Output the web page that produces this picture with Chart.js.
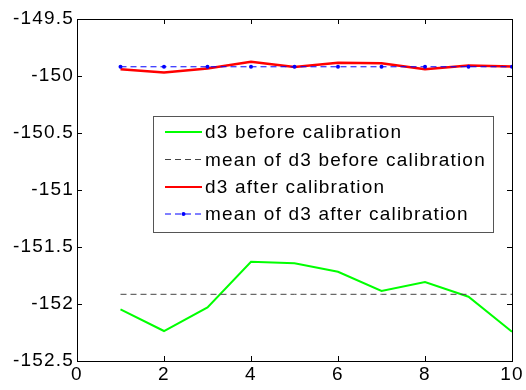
<!DOCTYPE html>
<html>
<head>
<meta charset="utf-8">
<script src="https://cdn.jsdelivr.net/npm/chart.js@4"></script>
<style>
  html, body { margin: 0; padding: 0; background: #fff; }
  #wrap { width: 526px; height: 390px; }
</style>
</head>
<body>
<div id="wrap"><canvas id="c" width="526" height="390"></canvas></div>
<script>
// sample index
const xs = [1, 2, 3, 4, 5, 6, 7, 8, 9, 10];

// d3 values
const d3Before = [-152.047, -152.237, -152.03, -151.63, -151.643, -151.717, -151.886, -151.807, -151.936, -152.243];
const d3BeforeMean = [-151.915, -151.915, -151.915, -151.915, -151.915, -151.915, -151.915, -151.915, -151.915, -151.915];
const d3After = [-149.94, -149.97, -149.934, -149.875, -149.92, -149.884, -149.888, -149.94, -149.908, -149.917];
const d3AfterMean = [-149.919, -149.919, -149.919, -149.919, -149.919, -149.919, -149.919, -149.919, -149.919, -149.919];

const labels = ["d3 before calibration", "mean of d3 before calibration", "d3 after calibration", "mean of d3 after calibration"];

const xTicks = [0, 2, 4, 6, 8, 10];
const yTicks = [-152.5, -152, -151.5, -151, -150.5, -150, -149.5];

const FONT = "Liberation Sans, Arial, sans-serif";

function pts(ys) {
    return xs.map((x, i) => ({ x: x, y: ys[i] }));
}

// matlab text is a bit wider than arial
const spacing = {
    id: "spacing",
    beforeUpdate(chart) { chart.ctx.letterSpacing = "1.2px"; },
    beforeDraw(chart) { chart.ctx.letterSpacing = "1.2px"; }
};

// box, inward ticks on all four sides, legend inside the axes
const matlabAxes = {
    id: "matlabAxes",
    afterDraw(chart) {
        const ctx = chart.ctx;
        const a = chart.chartArea;
        const sx = chart.scales.x, sy = chart.scales.y;
        ctx.save();
        ctx.strokeStyle = "#000";
        ctx.lineWidth = 1;
        ctx.strokeRect(Math.round(a.left) + 0.5, Math.round(a.top) + 0.5,
            Math.round(a.right - a.left), Math.round(a.bottom - a.top));
        ctx.beginPath();
        xTicks.forEach(v => {
            const px = Math.round(sx.getPixelForValue(v)) + 0.5;
            ctx.moveTo(px, a.bottom); ctx.lineTo(px, a.bottom - 5);
            ctx.moveTo(px, a.top); ctx.lineTo(px, a.top + 5);
        });
        yTicks.forEach(v => {
            const py = Math.round(sy.getPixelForValue(v)) + 0.5;
            ctx.moveTo(a.left, py); ctx.lineTo(a.left + 5, py);
            ctx.moveTo(a.right, py); ctx.lineTo(a.right - 5, py);
        });
        ctx.stroke();

        // legend
        const bx = 153.5, by = 116.5, bw = 340, bh = 116;
        ctx.fillStyle = "#fff";
        ctx.fillRect(bx, by, bw, bh);
        ctx.strokeStyle = "#555";
        ctx.strokeRect(bx, by, bw, bh);
        const rows = [132, 159.5, 187, 214];
        ctx.font = "19px " + FONT;
        ctx.textBaseline = "middle";
        chart.data.datasets.forEach((ds, i) => {
            const y = rows[i];
            ctx.save();
            ctx.strokeStyle = ds.borderColor;
            ctx.lineWidth = ds.legendWidth;
            ctx.setLineDash(ds.borderDash || []);
            ctx.beginPath();
            ctx.moveTo(165, y); ctx.lineTo(202, y);
            ctx.stroke();
            if (ds.pointRadius > 0) {
                ctx.fillStyle = ds.borderColor;
                ctx.beginPath();
                ctx.arc(183.5, y, 2, 0, Math.PI * 2);
                ctx.fill();
            }
            ctx.restore();
            ctx.fillStyle = "#000";
            ctx.fillText(ds.label, 205, y + 1);
        });
        ctx.restore();
    }
};

new Chart(document.getElementById("c"), {
    type: "line",
    data: {
        datasets: [
            { label: labels[0], data: pts(d3Before), borderColor: "#00ff00", borderWidth: 2, legendWidth: 2,
              pointRadius: 0, order: 4 },
            { label: labels[1], data: pts(d3BeforeMean), borderColor: "#444444", borderWidth: 1, legendWidth: 1,
              borderDash: [6, 4], pointRadius: 0, order: 3 },
            { label: labels[2], data: pts(d3After), borderColor: "#ff0000", borderWidth: 2.5, legendWidth: 2,
              pointRadius: 0, order: 2 },
            { label: labels[3], data: pts(d3AfterMean), borderColor: "#0000ff", borderWidth: 1, legendWidth: 1,
              borderDash: [6, 4], pointRadius: 2, pointBackgroundColor: "#0000ff", pointBorderWidth: 0, order: 1 }
        ]
    },
    options: {
        responsive: false,
        animation: false,
        layout: { padding: { left: 0, right: 14, top: 19, bottom: 0 } },
        plugins: { legend: { display: false }, tooltip: { enabled: false } },
        elements: { line: { tension: 0 } },
        scales: {
            x: {
                type: "linear", min: 0, max: 10,
                afterBuildTicks: s => { s.ticks = xTicks.map(v => ({ value: v })); },
                afterFit: s => { s.height = 29; },
                grid: { display: false },
                border: { display: false },
                ticks: { color: "#000", font: { family: FONT, size: 19 }, padding: -6, maxRotation: 0 }
            },
            y: {
                type: "linear", min: -152.5, max: -149.5,
                afterBuildTicks: s => { s.ticks = yTicks.map(v => ({ value: v })); },
                afterFit: s => { s.width = 77; },
                grid: { display: false },
                border: { display: false },
                ticks: { color: "#000", font: { family: FONT, size: 19 }, padding: -5,
                         callback: v => String(Math.round(v * 10) / 10) }
            }
        }
    },
    plugins: [spacing, matlabAxes]
});
</script>
</body>
</html>
